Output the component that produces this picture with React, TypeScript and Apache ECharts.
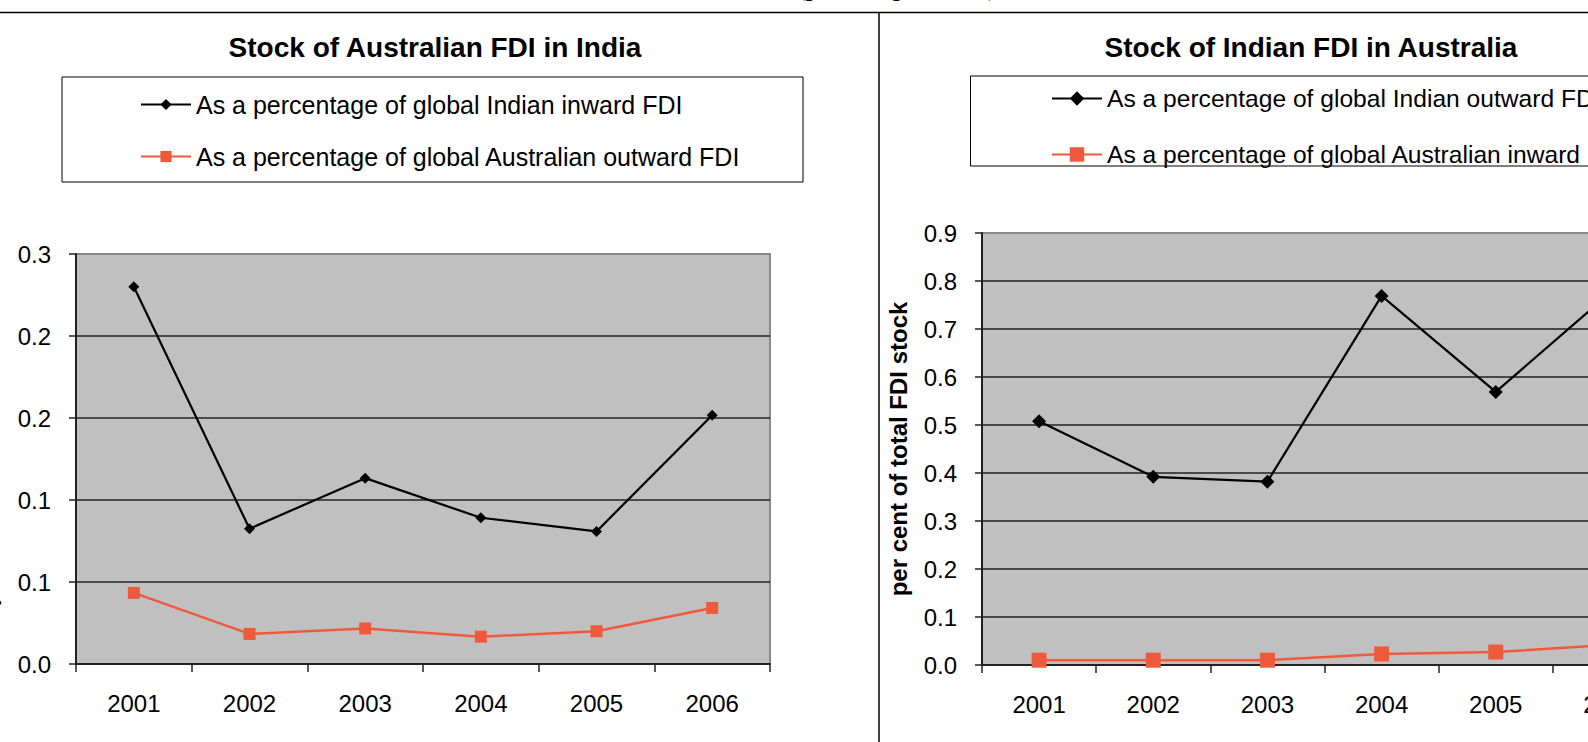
import React, { useEffect, useRef } from "react";
import * as echarts from "echarts";

const years = ["2001", "2002", "2003", "2004", "2005", "2006"];

const leftTitle = "Stock of Australian FDI in India";
const rightTitle = "Stock of Indian FDI in Australia";
const yAxisName = "per cent of total FDI stock";
const headerText = "(percentage of total)";

const leftBlackName = "As a percentage of global Indian inward FDI";
const leftRedName = "As a percentage of global Australian outward FDI";
const rightBlackName = "As a percentage of global Indian outward FDI";
const rightRedName = "As a percentage of global Australian inward FDI";

const ausInIndiaShareOfIndianInward = [0.276, 0.099, 0.136, 0.107, 0.097, 0.182];
const ausInIndiaShareOfAusOutward = [0.052, 0.022, 0.026, 0.02, 0.024, 0.041];
const indInAusShareOfIndianOutward = [0.508, 0.392, 0.382, 0.769, 0.569, 0.775];
const indInAusShareOfAusInward = [0.01, 0.01, 0.01, 0.023, 0.027, 0.042];

const leftYMax = 0.3;
const leftYInterval = 0.06;
const rightYMax = 0.9;
const rightYInterval = 0.1;

const FONT = '"Liberation Sans", Arial, sans-serif';
const RED = "#F05A3C";

export default function App() {
  const ref = useRef<HTMLDivElement>(null);

  useEffect(() => {
    if (!ref.current) return;
    const chart = echarts.init(ref.current, undefined, { renderer: "svg" });

    const yAxisBase = (max: number, interval: number, gridIndex: number, nameGap: number) => ({
      type: "value",
      gridIndex,
      min: 0,
      max,
      interval,
      name: yAxisName,
      nameLocation: "middle",
      nameGap,
      nameRotate: 90,
      nameTextStyle: { fontSize: 24, fontWeight: "bold", color: "#000", fontFamily: FONT },
      axisLine: { show: true, lineStyle: { color: "#222", width: 2 } },
      axisTick: { show: true, length: 7, lineStyle: { color: "#222", width: 1.5 } },
      axisLabel: {
        fontSize: 24,
        color: "#000",
        fontFamily: FONT,
        margin: 25,
        formatter: (v: number) => v.toFixed(1),
      },
      splitLine: {
        show: true,
        showMaxLine: false,
        showMinLine: false,
        lineStyle: { color: "#222", width: 1.5 },
      },
    });

    const xAxisBase = (gridIndex: number) => ({
      type: "category",
      gridIndex,
      data: years,
      boundaryGap: true,
      axisLine: { show: true, lineStyle: { color: "#222", width: 2 } },
      axisTick: { show: true, length: 8, interval: 0, lineStyle: { color: "#222", width: 1.5 } },
      axisLabel: { fontSize: 24, color: "#000", fontFamily: FONT, margin: 27, interval: 0 },
      splitLine: { show: false },
    });

    const legendText = { fontSize: 25, color: "#000", fontFamily: FONT, lineHeight: 25 };

    chart.setOption({
      animation: false,
      backgroundColor: "#fff",
      title: [
        {
          text: leftTitle,
          left: 435,
          top: 33,
          textAlign: "center",
          padding: 0,
          textStyle: { fontSize: 28, fontWeight: "bold", color: "#000", fontFamily: FONT },
        },
        {
          text: rightTitle,
          left: 1311,
          top: 33,
          textAlign: "center",
          padding: 0,
          textStyle: { fontSize: 28, fontWeight: "bold", color: "#000", fontFamily: FONT },
        },
      ],
      legend: [
        {
          data: [leftBlackName, leftRedName],
          orient: "vertical",
          left: 140,
          top: 92,
          padding: 0,
          itemWidth: 50,
          itemHeight: 14,
          itemGap: 27,
          textStyle: legendText,
          selectedMode: false,
        },
        {
          data: [rightBlackName, rightRedName],
          orient: "vertical",
          left: 1051,
          top: 86,
          padding: 0,
          itemWidth: 50,
          itemHeight: 18,
          itemGap: 31,
          textStyle: { ...legendText, fontSize: 24.6 },
          selectedMode: false,
        },
      ],
      grid: [
        {
          left: 76,
          top: 254,
          width: 694,
          height: 410,
          show: true,
          outerBoundsMode: "none",
          containLabel: false,
          backgroundColor: "#C0C0C0",
          borderColor: "#888",
          borderWidth: 2,
        },
        {
          left: 982,
          top: 233,
          width: 685,
          height: 432,
          show: true,
          outerBoundsMode: "none",
          containLabel: false,
          backgroundColor: "#C0C0C0",
          borderColor: "#888",
          borderWidth: 2,
        },
      ],
      xAxis: [xAxisBase(0), xAxisBase(1)],
      yAxis: [
        yAxisBase(leftYMax, leftYInterval, 0, 77),
        yAxisBase(rightYMax, rightYInterval, 1, 72),
      ],
      series: [
        {
          name: leftBlackName,
          type: "line",
          xAxisIndex: 0,
          yAxisIndex: 0,
          data: ausInIndiaShareOfIndianInward,
          symbol: "diamond",
          symbolSize: 11,
          color: "#000",
          lineStyle: { color: "#000", width: 2.2 },
          itemStyle: { color: "#000" },
        },
        {
          name: leftRedName,
          type: "line",
          xAxisIndex: 0,
          yAxisIndex: 0,
          data: ausInIndiaShareOfAusOutward,
          symbol: "rect",
          symbolSize: 12,
          color: RED,
          lineStyle: { color: RED, width: 2.5 },
          itemStyle: { color: RED },
        },
        {
          name: rightBlackName,
          type: "line",
          xAxisIndex: 1,
          yAxisIndex: 1,
          data: indInAusShareOfIndianOutward,
          symbol: "diamond",
          symbolSize: 14,
          color: "#000",
          lineStyle: { color: "#000", width: 2.2 },
          itemStyle: { color: "#000" },
        },
        {
          name: rightRedName,
          type: "line",
          xAxisIndex: 1,
          yAxisIndex: 1,
          data: indInAusShareOfAusInward,
          symbol: "rect",
          symbolSize: 15,
          color: RED,
          lineStyle: { color: RED, width: 2.5 },
          itemStyle: { color: RED },
        },
      ],
      graphic: [
        {
          type: "line",
          shape: { x1: 0, y1: 12.5, x2: 1720, y2: 12.5 },
          style: { stroke: "#000", lineWidth: 1.5 },
        },
        {
          type: "line",
          shape: { x1: 879, y1: 12, x2: 879, y2: 742 },
          style: { stroke: "#000", lineWidth: 1.5 },
        },
        {
          type: "rect",
          shape: { x: 62, y: 77, width: 741, height: 105 },
          style: { fill: "none", stroke: "#000", lineWidth: 1 },
        },
        {
          type: "rect",
          shape: { x: 970.5, y: 76, width: 741, height: 90 },
          style: { fill: "none", stroke: "#000", lineWidth: 1 },
        },
        {
          type: "text",
          x: 798,
          y: -12,
          style: {
            text: headerText,
            font: 'bold 23px "Liberation Serif", "Times New Roman", serif',
            fill: "#000",
            verticalAlign: "middle",
          },
        },
      ],
    });

    return () => chart.dispose();
  }, []);

  return (
    <div
      style={{
        position: "fixed",
        left: 0,
        top: 0,
        width: 1588,
        height: 742,
        overflow: "hidden",
        background: "#fff",
      }}
    >
      <div ref={ref} style={{ width: 1720, height: 742 }} />
    </div>
  );
}
